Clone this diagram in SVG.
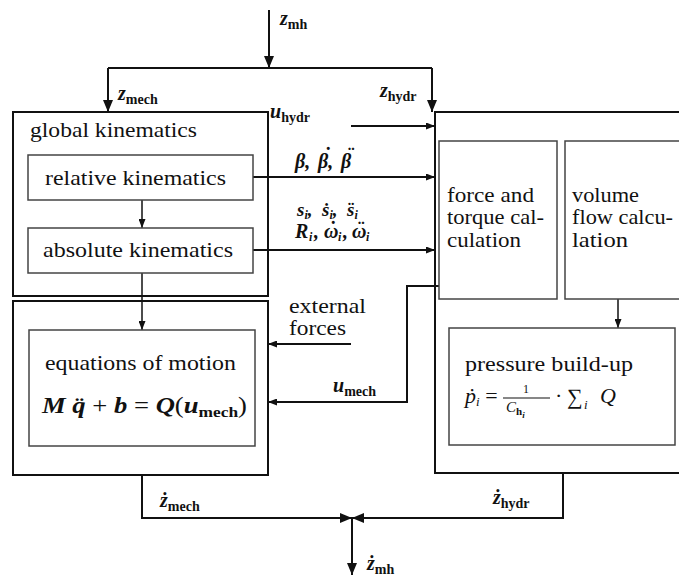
<svg xmlns="http://www.w3.org/2000/svg" width="679" height="576" viewBox="0 0 679 576">
<style>
.box{fill:none;stroke:#111;stroke-width:2}
.inner{fill:none;stroke:#444;stroke-width:1.5}
.ln{fill:none;stroke:#111;stroke-width:2}
.ln1{fill:none;stroke:#111;stroke-width:1.5}
.t{font-family:"Liberation Serif","DejaVu Serif",serif;font-size:22px;fill:#111}
.m{font-family:"Liberation Serif","DejaVu Serif",serif;font-size:20px;font-weight:bold;font-style:italic;fill:#111}
.s{font-size:14px;font-style:normal;font-weight:bold}
.si{font-size:12px;font-style:italic;font-weight:bold}
.n{font-style:normal;font-weight:normal}
</style>
<defs>
<marker id="a" markerUnits="userSpaceOnUse" markerWidth="12" markerHeight="10" refX="12" refY="5" orient="auto"><path d="M0,0 L12,5 L0,10 z" fill="#111"/></marker>
<marker id="b" markerUnits="userSpaceOnUse" markerWidth="9" markerHeight="7" refX="9" refY="3.5" orient="auto"><path d="M0,0 L9,3.5 L0,7 z" fill="#111"/></marker>
</defs>
<rect width="679" height="576" fill="#fff"/>

<g id="connectors">
<path class="ln" d="M269,10 V68" marker-end="url(#a)"/>
<path class="ln" d="M108,68 H432"/>
<path class="ln" d="M108,68 V112" marker-end="url(#a)"/>
<path class="ln" d="M432,68 V112" marker-end="url(#a)"/>
<path class="ln" d="M351,126 H435" marker-end="url(#b)"/>
<path class="ln" d="M253,177 H435" marker-end="url(#b)"/>
<path class="ln" d="M253,250 H435" marker-end="url(#b)"/>
<path class="ln1" d="M142,200 V228" marker-end="url(#b)"/>
<path class="ln1" d="M142,273 V330" marker-end="url(#b)"/>
<path class="ln" d="M351,344 H268" marker-end="url(#b)"/>
<path class="ln" d="M439,286 H407 V402 H268" marker-end="url(#b)"/>
<path class="ln1" d="M618,299 V328" marker-end="url(#b)"/>
<path class="ln" d="M142,475 V518 H352" marker-end="url(#a)"/>
<path class="ln" d="M563,473 V518 H352" marker-end="url(#a)"/>
<path class="ln" d="M352,518 V575" marker-end="url(#a)"/>
</g>

<g id="global-kinematics">
<rect class="box" x="13" y="112" width="255" height="184"/>
<text class="t" x="30" y="137" textLength="167" lengthAdjust="spacingAndGlyphs">global kinematics</text>
</g>
<g id="relative-kinematics">
<rect class="inner" x="28" y="155" width="225" height="45"/>
<text class="t" x="45" y="185" textLength="181" lengthAdjust="spacingAndGlyphs">relative kinematics</text>
</g>
<g id="absolute-kinematics">
<rect class="inner" x="28" y="228" width="225" height="45"/>
<text class="t" x="43" y="257" textLength="190" lengthAdjust="spacingAndGlyphs">absolute kinematics</text>
</g>
<g id="motion-block">
<rect class="box" x="13" y="301" width="255" height="174"/>
</g>
<g id="equations-of-motion">
<rect class="inner" x="29" y="330" width="226" height="116"/>
<text class="t" x="45" y="370" textLength="191" lengthAdjust="spacingAndGlyphs">equations of motion</text>
<text class="m" x="42" y="413" style="font-size:23px" textLength="205" lengthAdjust="spacingAndGlyphs">M q̈ <tspan class="n">+</tspan> b <tspan class="n">=</tspan> Q<tspan class="n">(</tspan>u<tspan class="s" style="font-size:15px" dy="4">mech</tspan><tspan class="n" dy="-4">)</tspan></text>
</g>
<g id="hydraulics-block">
<rect class="box" x="435" y="112" width="260" height="361"/>
</g>
<g id="force-torque">
<rect class="inner" x="439" y="141" width="118" height="158"/>
<text class="t" x="447" y="202" textLength="87" lengthAdjust="spacingAndGlyphs">force and</text>
<text class="t" x="447" y="224" textLength="97" lengthAdjust="spacingAndGlyphs">torque cal-</text>
<text class="t" x="447" y="247" textLength="74" lengthAdjust="spacingAndGlyphs">culation</text>
</g>
<g id="volume-flow">
<rect class="inner" x="565" y="141" width="130" height="158"/>
<text class="t" x="572" y="202" textLength="67" lengthAdjust="spacingAndGlyphs">volume</text>
<text class="t" x="572" y="224" textLength="101" lengthAdjust="spacingAndGlyphs">flow calcu-</text>
<text class="t" x="572" y="247" textLength="56" lengthAdjust="spacingAndGlyphs">lation</text>
</g>
<g id="pressure-build-up">
<rect class="inner" x="449" y="328" width="226" height="117"/>
<text class="t" x="465" y="371" textLength="168" lengthAdjust="spacingAndGlyphs">pressure build-up</text>
<text class="t" x="465" y="403" style="font-style:italic">ṗ<tspan style="font-size:13px" dy="3">i</tspan><tspan dy="-3" style="font-style:normal"> =</tspan></text>
<text class="t" x="526" y="393" style="font-size:12px" text-anchor="middle">1</text>
<line x1="503" y1="398" x2="550" y2="398" stroke="#111" stroke-width="1.2"/>
<text class="t" x="506" y="412" style="font-size:15px;font-style:italic">C<tspan style="font-size:11px;font-weight:bold;font-style:normal" dy="3">h</tspan><tspan style="font-size:9px;font-weight:bold" dy="3">i</tspan></text>
<text class="t" x="555" y="403">·</text>
<text class="t" x="567" y="404" style="font-size:22px">∑</text>
<text class="t" x="584" y="409" style="font-size:13px;font-style:italic">i</text>
<text class="t" x="600" y="403" style="font-style:italic">Q</text>
</g>

<g id="labels">
<text class="m" x="280" y="25">z<tspan class="s" dy="4">mh</tspan></text>
<text class="m" x="118" y="100">z<tspan class="s" dy="4">mech</tspan></text>
<text class="m" x="380" y="97">z<tspan class="s" dy="4">hydr</tspan></text>
<text class="m" x="270" y="118">u<tspan class="s" dy="4">hydr</tspan></text>
<text class="m" y="168"><tspan x="295">β,</tspan><tspan x="318">β,</tspan><tspan x="341">β</tspan></text>
<text class="m" x="327" y="162" text-anchor="middle">˙</text>
<text class="m" x="350" y="162" text-anchor="middle">¨</text>
<text class="m" x="297" y="216" style="font-size:19px;white-space:pre" xml:space="preserve">s<tspan class="si" dy="3">i</tspan><tspan dy="-3">,  ṡ</tspan><tspan class="si" dy="3">i</tspan><tspan dy="-3">,  s̈</tspan><tspan class="si" dy="3">i</tspan></text>
<text class="m" y="238"><tspan x="295">R</tspan><tspan class="si" x="309" dy="3">i</tspan><tspan x="314" dy="-3">,</tspan><tspan x="324">ω</tspan><tspan class="si" x="338" dy="3">i</tspan><tspan x="343" dy="-3">,</tspan><tspan x="352">ω</tspan><tspan class="si" x="366" dy="3">i</tspan></text>
<text class="m" x="332" y="236" text-anchor="middle">˙</text>
<text class="m" x="360" y="236" text-anchor="middle">¨</text>
<text class="t" x="289" y="313" textLength="77" lengthAdjust="spacingAndGlyphs">external</text>
<text class="t" x="289" y="335" textLength="57" lengthAdjust="spacingAndGlyphs">forces</text>
<text class="m" x="333" y="392">u<tspan class="s" dy="4">mech</tspan></text>
<text class="m" x="160" y="507">ż<tspan class="s" dy="4">mech</tspan></text>
<text class="m" x="493" y="504">ż<tspan class="s" dy="4">hydr</tspan></text>
<text class="m" x="367" y="570">ż<tspan class="s" dy="4">mh</tspan></text>
</g>
</svg>
